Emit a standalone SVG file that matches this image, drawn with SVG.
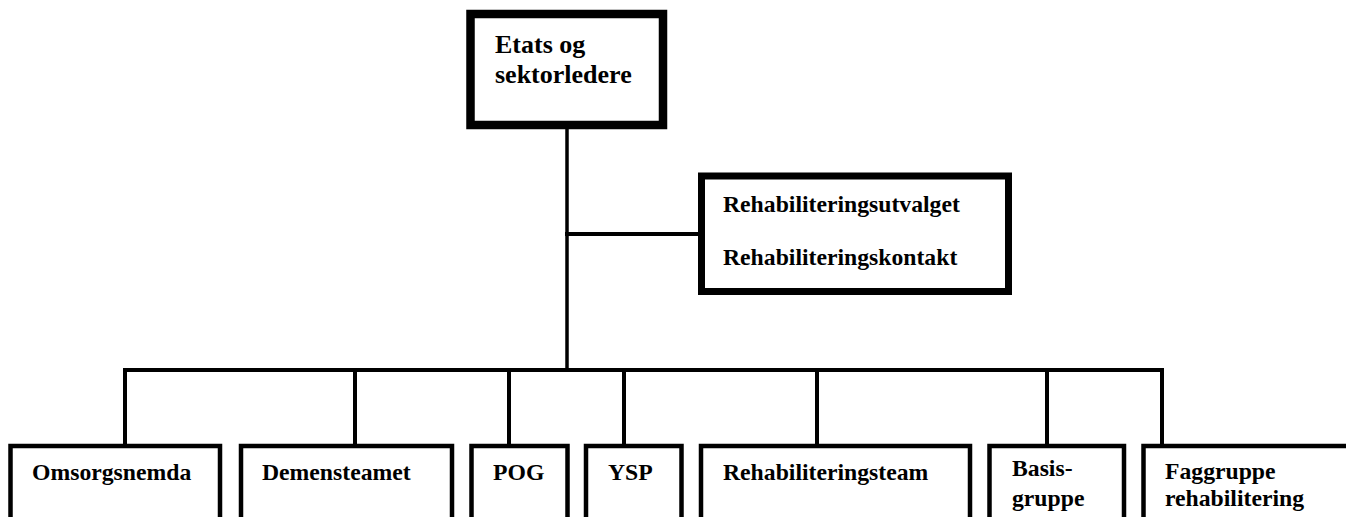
<svg xmlns="http://www.w3.org/2000/svg" width="1346" height="517" viewBox="0 0 1346 517">
<style>
text{font-family:'Liberation Serif','DejaVu Serif',serif;font-weight:bold;fill:#000}
.big{font-size:26px}
.mid{font-size:23.7px}
.box{fill:#fff;stroke:#000}
.ln{stroke:#000;fill:none;stroke-linecap:square}
</style>
<rect width="1346" height="517" fill="#fff"/>
<g id="connectors">
<line class="ln" x1="567" y1="129" x2="567" y2="370" stroke-width="3.5"/>
<line class="ln" x1="567" y1="234" x2="699" y2="234" stroke-width="4"/>
<line class="ln" x1="125" y1="370" x2="1162" y2="370" stroke-width="4"/>
<line class="ln" x1="125" y1="370" x2="125" y2="445" stroke-width="4"/>
<line class="ln" x1="355" y1="370" x2="355" y2="445" stroke-width="4"/>
<line class="ln" x1="509" y1="370" x2="509" y2="445" stroke-width="4"/>
<line class="ln" x1="624" y1="370" x2="624" y2="445" stroke-width="4"/>
<line class="ln" x1="817" y1="370" x2="817" y2="445" stroke-width="4"/>
<line class="ln" x1="1047" y1="370" x2="1047" y2="445" stroke-width="4"/>
<line class="ln" x1="1162" y1="370" x2="1162" y2="445" stroke-width="4"/>
</g>
<g id="etats">
<rect class="box" x="470.5" y="14" width="192.5" height="111" stroke-width="8.5"/>
<text class="big" x="495" y="53" font-family="Liberation Serif">Etats og</text>
<text class="big" x="495" y="83" font-family="Liberation Serif">sektorledere</text>
</g>
<g id="rehabutvalg">
<rect class="box" x="701.5" y="176" width="307" height="115.5" stroke-width="7"/>
<text class="mid" x="723" y="212">Rehabiliteringsutvalget</text>
<text class="mid" x="723" y="265">Rehabiliteringskontakt</text>
</g>
<g id="omsorgsnemda">
<rect class="box" x="10.5" y="446" width="209.5" height="100" stroke-width="4.5"/>
<text class="mid" x="32" y="480">Omsorgsnemda</text>
</g>
<g id="demensteamet">
<rect class="box" x="241" y="446" width="211" height="100" stroke-width="4.5"/>
<text class="mid" x="262" y="480">Demensteamet</text>
</g>
<g id="pog">
<rect class="box" x="471.5" y="446" width="96" height="100" stroke-width="4.5"/>
<text class="mid" x="493" y="480">POG</text>
</g>
<g id="ysp">
<rect class="box" x="586" y="446" width="95.5" height="100" stroke-width="4.5"/>
<text class="mid" x="608" y="480">YSP</text>
</g>
<g id="rehabteam">
<rect class="box" x="701" y="446" width="269" height="100" stroke-width="4.5"/>
<text class="mid" x="723" y="480">Rehabiliteringsteam</text>
</g>
<g id="basisgruppe">
<rect class="box" x="989.5" y="446" width="134.5" height="100" stroke-width="4.5"/>
<text class="mid" x="1012" y="476">Basis-</text>
<text class="mid" x="1012" y="506">gruppe</text>
</g>
<g id="faggruppe">
<rect class="box" x="1143.5" y="446" width="230" height="100" stroke-width="4.5"/>
<text class="mid" x="1165" y="479">Faggruppe</text>
<text class="mid" x="1165" y="506">rehabilitering</text>
</g>
</svg>
